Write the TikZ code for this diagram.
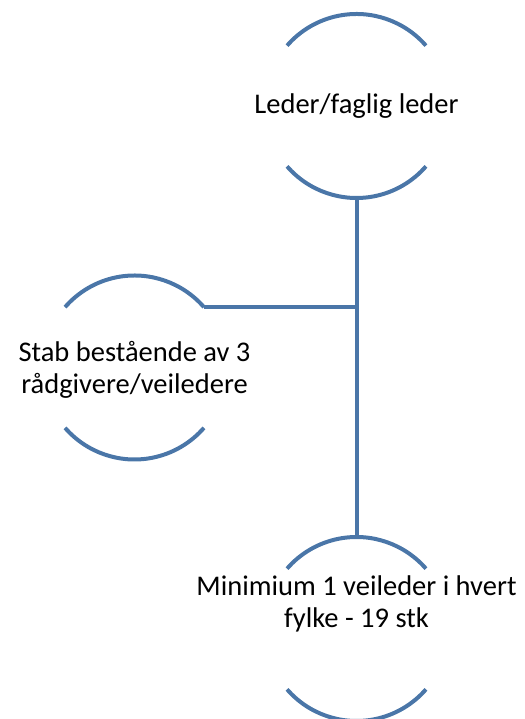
\documentclass[tikz,border=0pt]{standalone}
\usepackage{fontspec}
\setmainfont{Carlito}
\definecolor{ringblue}{HTML}{4A76A8}
\tikzset{
    ring/.style={circle,minimum size=184pt,inner sep=0pt,outer sep=0pt},
    arcline/.style={draw=ringblue,line width=4pt},
    lbl/.style={align=center,font=\fontsize{28.5}{32}\selectfont,text=black}
}

\begin{document}
\begin{tikzpicture}[x=1pt,y=1pt]
        \useasboundingbox (0,0) rectangle (524,719);
        %---
        \node[ring] (leder) at (356.5,613) {};
        \node[ring] (stab) at (134.5,351.5) {};
        \node[ring] (fylke) at (356.5,90) {};

        \node[lbl] (leder-t) at (leder.center) {Leder/faglig leder};
        \node[lbl] (stab-t) at ([yshift=-2pt]stab.center) {Stab bestående av 3\\rådgivere/veiledere};
        \node[lbl] (fylke-t) at ([yshift=25pt]fylke.center) {Minimium 1 veileder i hvert\\fylke - 19 stk};

        %---
        \foreach \n in {leder,stab,fylke} {
            \draw[arcline] (\n.41) arc[start angle=41,end angle=139,radius=92pt];
            \draw[arcline] (\n.221) arc[start angle=221,end angle=319,radius=92pt];
        }

        \draw[arcline] (leder.south) -- (fylke.north);
        \draw[arcline] (stab.41) -- (leder.south |- stab.41);
    \end{tikzpicture}
\end{document}
